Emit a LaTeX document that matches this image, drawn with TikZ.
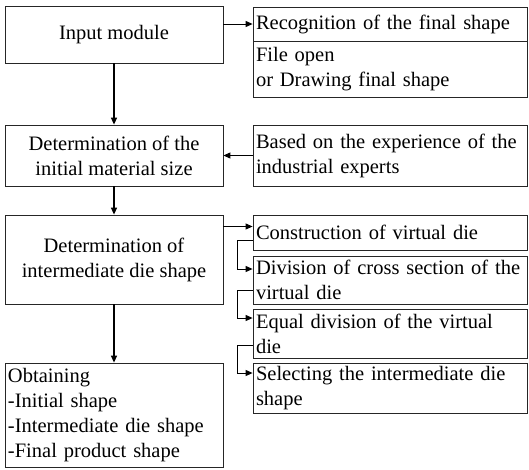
\documentclass[tikz,border=0pt]{standalone}
\usepackage{fontspec}
\setmainfont{Liberation Serif}
\usetikzlibrary{arrows.meta, positioning}

\begin{document}
\begin{tikzpicture}[
  x=1pt, y=-1pt,
  font=\fontsize{20.5}{25}\selectfont,
  box/.style={draw=black!85, line width=0.8pt, minimum width=218pt,
              minimum height=#1, align=center, inner sep=0pt},
  side/.style={draw=black!85, line width=0.8pt, text width=268pt,
               minimum height=#1, align=left, inner xsep=3pt, inner ysep=0pt},
  arr/.style={-{Triangle[length=7pt,width=6pt]}, line width=1pt}
]
\useasboundingbox (0,0) rectangle (529,469);

% left column
\node[box=57pt]  (input)  at (114,34.5)  {Input module};
\node[box=61pt]  (size)   at (114,155.5) {Determination of the\\initial material size};
\node[box=89pt]  (inter)  at (114,259.5) {Determination of\\intermediate die shape};
\node[box=104pt, text width=212pt, align=left] (obtain) at (114,415)
  {Obtaining\\-Initial shape\\-Intermediate die shape\\-Final product shape};

% right column
\node[side=34pt] (recog)    at (390,24)    {Recognition of the final shape};
\node[side=56pt] (recogsub) at (390,69)    {File open\\or Drawing final shape};
\node[side=61pt] (expert)   at (390,155.5) {Based on the experience of the\\industrial experts};
\node[side=35pt] (virt)     at (390,232.5) {Construction of virtual die};
\node[side=48pt] (div)      at (390,280)   {Division of cross section of the\\virtual die};
\node[side=49pt] (equal)    at (390,333.5) {Equal division of the virtual\\die};
\node[side=50pt] (select)   at (390,388)   {Selecting the intermediate die\\shape};

\draw[arr, line width=1.3pt] (input)  -- (size);
\draw[arr, line width=1.3pt] (size)   -- (inter);
\draw[arr, line width=1.3pt] (inter)  -- (obtain);
\draw[arr] (input.east |- recog.west) -- (recog.west);
\draw[arr] (expert) -- (size);
\draw[arr] ([yshift=6pt]virt.west -| inter.east) -- ([yshift=6pt]virt.west);

% stepwise links
\draw[arr] ([yshift=-7.5pt]virt.west)  -- ++(-15,0) |- ([yshift=11pt]div.west);
\draw[arr] ([yshift=-10pt]div.west)    -- ++(-15,0) |- ([yshift=15.5pt]equal.west);
\draw[arr] ([yshift=-11.5pt]equal.west) -- ++(-15,0) |- ([yshift=15pt]select.west);
\end{tikzpicture}
\end{document}
